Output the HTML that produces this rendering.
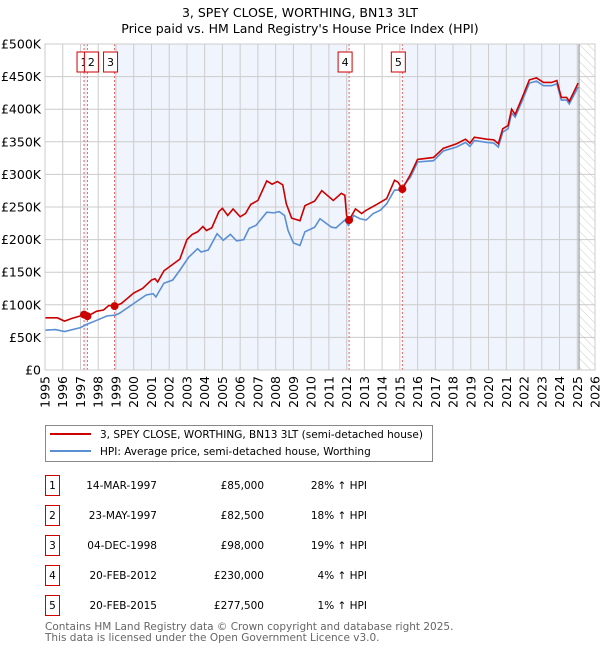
<!DOCTYPE html>
<html><head><meta charset="utf-8"><style>
body{margin:0;background:#fff;font-family:"Liberation Sans","DejaVu Sans",sans-serif;}
svg text{font-family:"DejaVu Sans","Liberation Sans",sans-serif;}
</style></head><body>
<svg id="c" width="600" height="650" xmlns="http://www.w3.org/2000/svg"></svg>
<script>
const hpiYears=[1995,1995.6,1996.1,1997,1997.35,1997.9,1998.5,1998.95,1999.2,1999.95,2000.7,2001.1,2001.25,2001.7,2002.2,2002.6,2003.1,2003.6,2003.8,2004.2,2004.7,2005.05,2005.45,2005.8,2006.2,2006.5,2006.9,2007.5,2007.9,2008.2,2008.5,2008.7,2009,2009.37,2009.65,2010.2,2010.5,2011.15,2011.4,2011.9,2012.1,2012.4,2012.75,2013.1,2013.5,2013.9,2014.26,2014.7,2015,2015.6,2016,2016.9,2017.45,2018.2,2018.7,2018.95,2019.2,2019.9,2020.3,2020.55,2020.8,2021.1,2021.3,2021.5,2021.9,2022.3,2022.7,2023.1,2023.55,2023.85,2024.1,2024.4,2024.55,2025.05];
const hpiValues=[61,62,59,65,70,76,83,84,87,101,115,117,112,133,138,153,173,186,181,184,209,199,208,198,200,217,222,242,241,243,237,214,195,191,212,219,232,219,218,230,222,237,232,230,240,245,255,276,276,296,319,321,336,342,349,343,352,349,348,342,365,370,394,388,413,440,443,436,436,439,414,414,408,434];
const priceYears=[1995,1995.7,1996.1,1996.5,1997,1997.2,1997.4,1997.9,1998.3,1998.6,1998.93,1999.3,2000,2000.5,2001,2001.2,2001.35,2001.7,2002.2,2002.6,2003,2003.3,2003.6,2003.9,2004.1,2004.4,2004.8,2005,2005.3,2005.6,2006,2006.3,2006.6,2007,2007.5,2007.8,2008.1,2008.4,2008.6,2008.9,2009.37,2009.65,2010.2,2010.6,2011.25,2011.7,2011.9,2012,2012.14,2012.5,2012.85,2013.1,2013.7,2014.26,2014.7,2014.9,2015.14,2015.6,2016,2016.9,2017.45,2018.2,2018.7,2018.95,2019.2,2019.9,2020.3,2020.55,2020.8,2021.1,2021.3,2021.5,2021.9,2022.3,2022.7,2023.1,2023.55,2023.85,2024.1,2024.4,2024.55,2025.05];
const priceValues=[80,80,75,79,83,85,82.5,90,92,99,98,102,118,125,138,140,135,152,162,170,200,208,212,220,214,218,243,248,237,247,235,240,254,260,290,285,289,284,255,233,229,252,259,275,260,271,268,237,230,247,240,245,254,263,291,288,277.5,300,323,326,340,347,354,348,357,354,353,347,370,375,400,392,418,445,448,441,441,444,418,418,412,440];
const saleLabels=["1","2","3","4","5"];
const saleDates=[1997.2,1997.39,1998.92,2012.14,2015.14];
const salePrices=[85,82.5,98,230,277.5];
const saleDateText=["14-MAR-1997","23-MAY-1997","04-DEC-1998","20-FEB-2012","20-FEB-2015"];
const salePriceText=["£85,000","£82,500","£98,000","£230,000","£277,500"];
const saleHpiText=["28% ↑ HPI","18% ↑ HPI","19% ↑ HPI","4% ↑ HPI","1% ↑ HPI"];
const yTicks=[0,50,100,150,200,250,300,350,400,450,500];
const yTickLabels=["£0","£50K","£100K","£150K","£200K","£250K","£300K","£350K","£400K","£450K","£500K"];
const xTicks=[1995,1996,1997,1998,1999,2000,2001,2002,2003,2004,2005,2006,2007,2008,2009,2010,2011,2012,2013,2014,2015,2016,2017,2018,2019,2020,2021,2022,2023,2024,2025,2026];
const dataEnd=2025.1;

const L=45,R=595,T=44,B=370;
const X=y=>L+(y-1995)/(2026-1995)*(R-L);
const Y=v=>B-v/500*(B-T);
const svg=document.getElementById('c');
const NS='http://www.w3.org/2000/svg';
function mk(tag,attrs,parent){const e=document.createElementNS(NS,tag);for(const k in attrs)e.setAttribute(k,attrs[k]);(parent||svg).appendChild(e);return e;}
function txt(s,attrs,parent){const e=mk('text',attrs,parent);e.textContent=s;return e;}

const defs=mk('defs',{});
const pat=mk('pattern',{id:'hatch',width:6,height:6,patternUnits:'userSpaceOnUse',patternTransform:'rotate(-45)'},defs);
mk('line',{x1:0,y1:0,x2:0,y2:6,stroke:'#ccc','stroke-width':1},pat);

let t=txt('3, SPEY CLOSE, WORTHING, BN13 3LT',{x:300,y:17,'text-anchor':'middle','font-size':12.5,fill:'#000'});


t=txt("Price paid vs. HM Land Registry's House Price Index (HPI)",{x:300,y:33,'text-anchor':'middle','font-size':12.5,fill:'#000'});



const bandEdges=[1995].concat(saleDates).concat([dataEnd]);
for(let i=0;i<bandEdges.length-1;i++){
  if(i%2===1){
    const r=mk('rect',{x:X(bandEdges[i]),y:T,width:X(bandEdges[i+1])-X(bandEdges[i]),height:B-T,fill:'#f0f4fc'});
    
    
  }
}
const h=mk('rect',{x:X(dataEnd),y:T,width:R-X(dataEnd),height:B-T,fill:'url(#hatch)'});



xTicks.forEach(v=>{const g=mk('line',{x1:X(v),x2:X(v),y1:T,y2:B,stroke:'#ccc','stroke-width':1});

});
yTicks.forEach((v,i)=>{const g=mk('line',{x1:L,x2:R,y1:Y(v),y2:Y(v),stroke:'#ccc','stroke-width':1});


const l=txt(yTickLabels[i],{x:L-4,y:Y(v)+4.5,'text-anchor':'end','font-size':12.5,fill:'#000'});

});
xTicks.forEach(v=>{const l=txt(String(v),{x:0,y:0,'text-anchor':'end','font-size':12.5,fill:'#000',transform:`translate(${X(v)+4.5},${B+6}) rotate(-90)`});

});
const dl=mk('line',{x1:X(dataEnd),x2:X(dataEnd),y1:T,y2:B,stroke:'#888','stroke-width':1});



saleDates.forEach(d=>{const l=mk('line',{x1:X(d),x2:X(d),y1:T,y2:B,stroke:'#f06060','stroke-width':1,'stroke-dasharray':'2,2'});

});

let p=mk('polyline',{points:hpiYears.map((y,i)=>X(y)+','+Y(hpiValues[i])).join(' '),fill:'none',stroke:'#5b8fd4','stroke-width':1.6});


p=mk('polyline',{points:priceYears.map((y,i)=>X(y)+','+Y(priceValues[i])).join(' '),fill:'none',stroke:'#cc0000','stroke-width':1.6});



saleDates.forEach((d,i)=>{
  const c=mk('circle',{cx:X(d),cy:Y(salePrices[i]),r:4,fill:'#cc0000'});
  
  
  const bx=X(d)+(i===0?0:i===1?4:-4)-7;
  const r=mk('rect',{x:bx,y:52,width:14,height:20,fill:'#fff',stroke:'#cc0000','stroke-width':1});
  
  
  const l=txt(saleLabels[i],{x:bx+7,y:66,'text-anchor':'middle','font-size':11,fill:'#000'});
  
  
});
const ax=mk('rect',{x:L,y:T,width:R-L,height:B-T,fill:'none',stroke:'#ccc','stroke-width':1});



const lg=mk('g',{});


mk('rect',{x:45.5,y:425.5,width:387,height:36,fill:'#fff',stroke:'#888','stroke-width':1},lg);
mk('line',{x1:50,x2:91,y1:434,y2:434,stroke:'#cc0000','stroke-width':2},lg);
mk('line',{x1:50,x2:91,y1:451,y2:451,stroke:'#5b8fd4','stroke-width':2},lg);
t=txt('3, SPEY CLOSE, WORTHING, BN13 3LT (semi-detached house)',{x:100,y:438,'font-size':10.5,fill:'#000'},lg);


t=txt('HPI: Average price, semi-detached house, Worthing',{x:100,y:455,'font-size':10.5,fill:'#000'},lg);



saleLabels.forEach((s,i)=>{
  const y=483+i*30;
  const r=mk('rect',{x:45.5,y:y-7.5,width:14,height:20,fill:'#fff',stroke:'#cc0000','stroke-width':1});
  
  
  let tt=txt(s,{x:52.5,y:y+6,'text-anchor':'middle','font-size':10.5,fill:'#000'});
  
  
  tt=txt(saleDateText[i],{x:157,y:y+6,'text-anchor':'end','font-size':10.5,fill:'#000'});
  
  
  tt=txt(salePriceText[i],{x:264,y:y+6,'text-anchor':'end','font-size':10.5,fill:'#000'});
  
  
  tt=txt(saleHpiText[i],{x:367,y:y+6,'text-anchor':'end','font-size':10.5,fill:'#000'});
  
  
});
t=txt('Contains HM Land Registry data © Crown copyright and database right 2025.',{x:45,y:630,'font-size':10.5,fill:'#666'});


t=txt('This data is licensed under the Open Government Licence v3.0.',{x:45,y:641,'font-size':10.5,fill:'#666'});


</script>
</body></html>
